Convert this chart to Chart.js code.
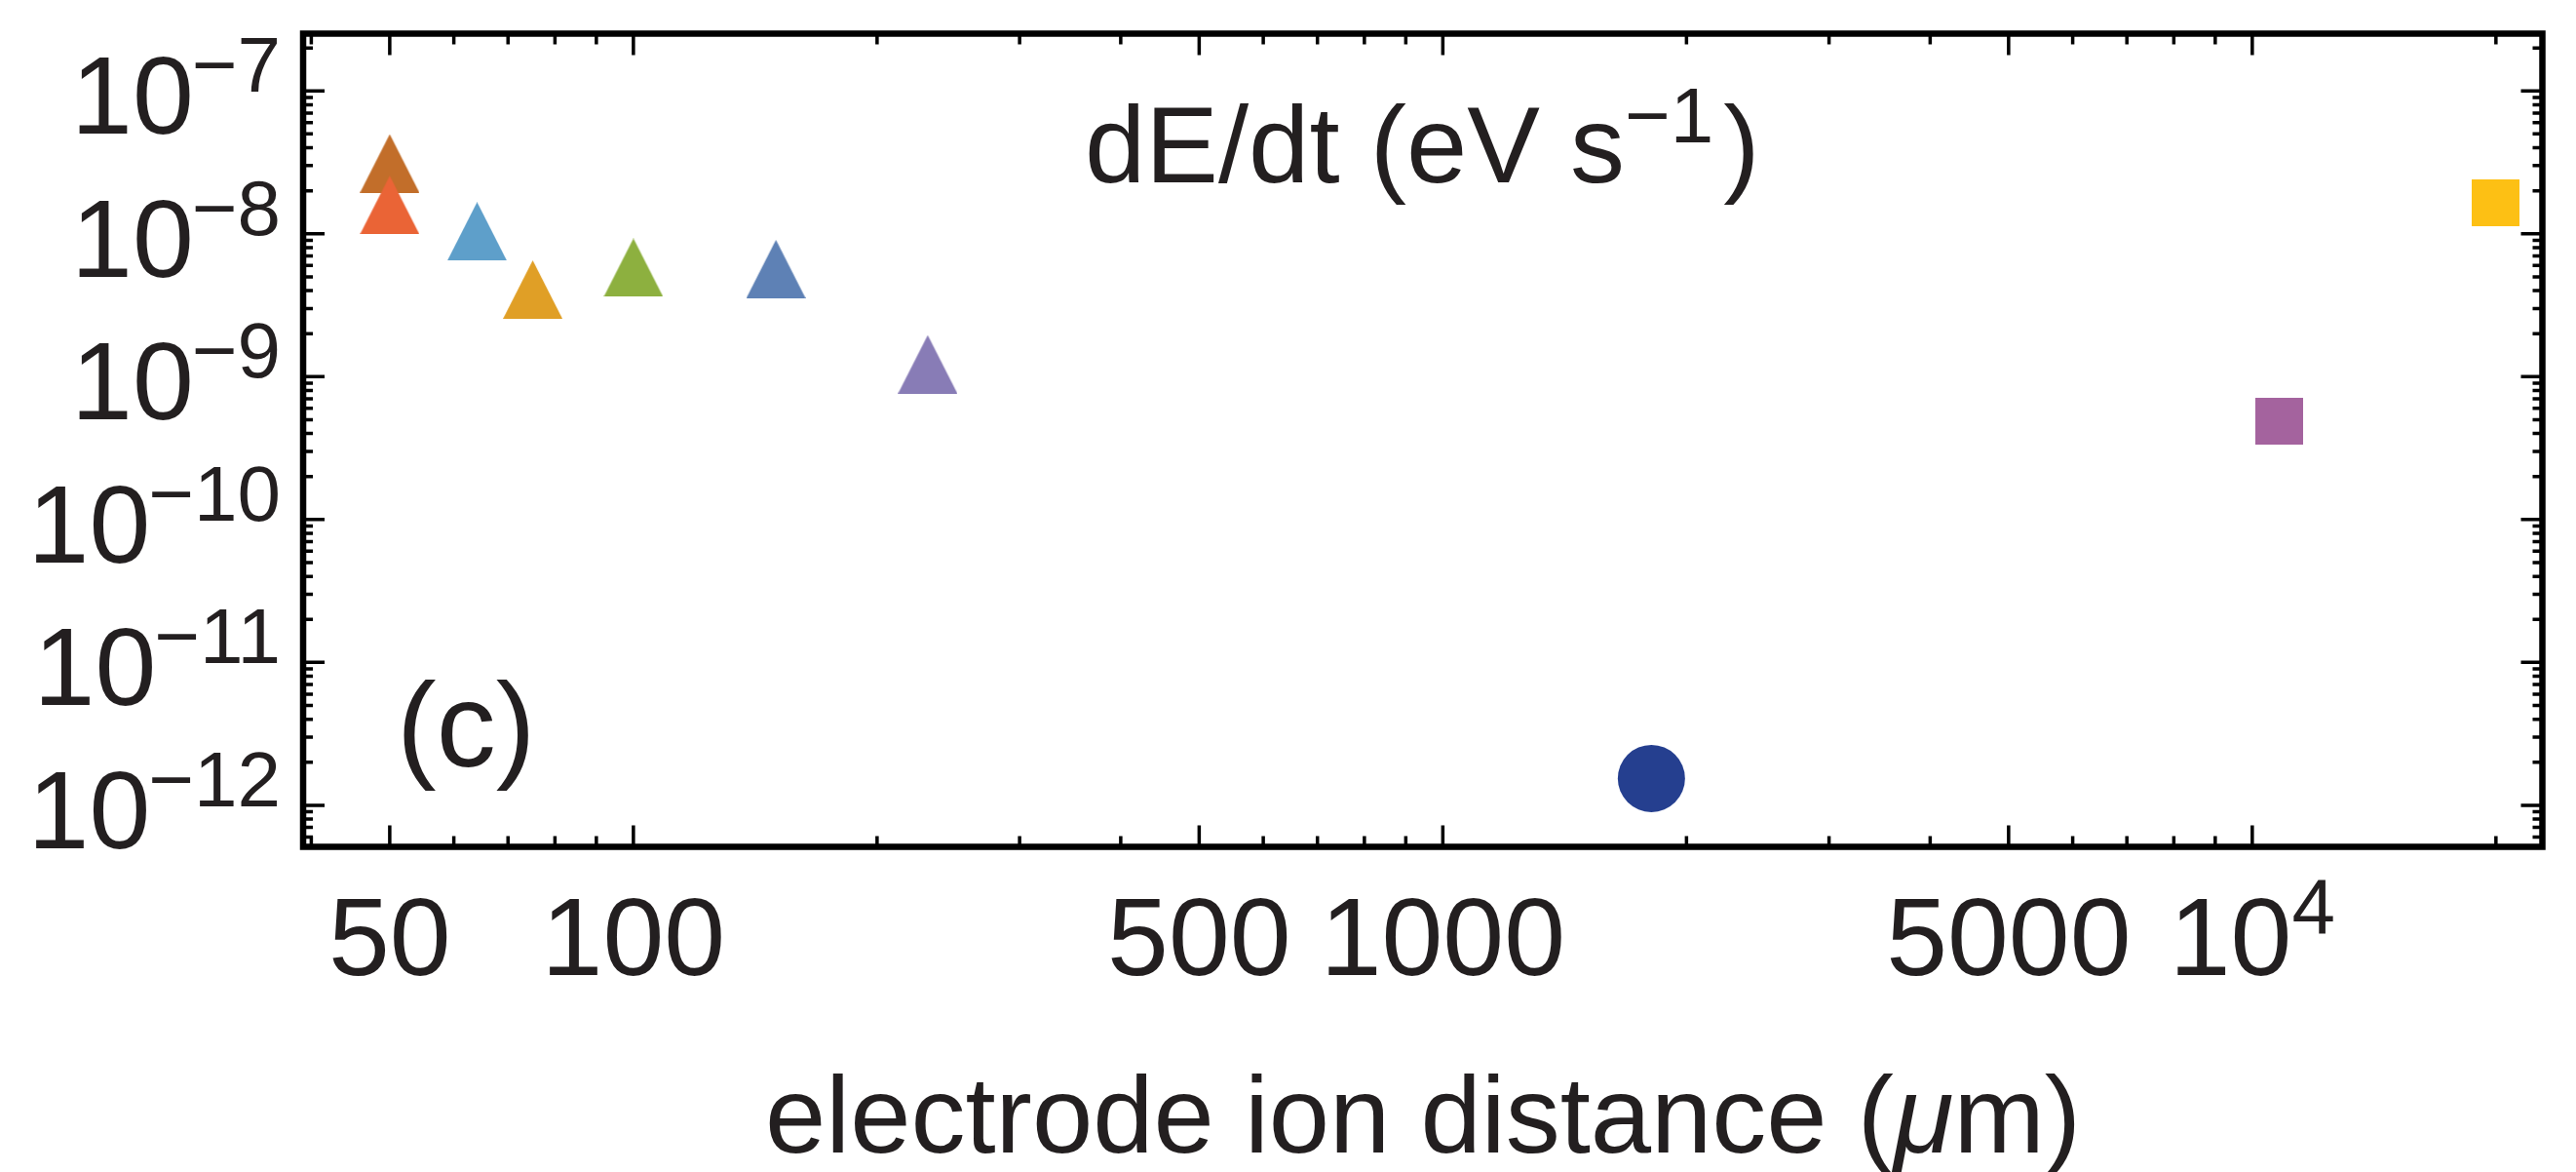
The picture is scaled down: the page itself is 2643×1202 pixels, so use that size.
<!DOCTYPE html>
<html>
<head>
<meta charset="utf-8">
<script src="https://cdn.jsdelivr.net/npm/chart.js@4/dist/chart.umd.min.js"></script>
<style>
  html, body { margin: 0; padding: 0; background: #ffffff; }
  #wrap { width: 2643px; height: 1202px; }
</style>
</head>
<body>
<div id="wrap"><canvas id="c" width="2643" height="1202"></canvas></div>
<script>
// ---------------- data ----------------
const seriesNames = ['S1', 'S2', 'S3', 'S4', 'S5', 'S6', 'S7', 'S8', 'S9', 'S10'];
const xValues = [50, 50, 64.1, 75.1, 100, 150, 231, 1810, 10800, 20000];          // electrode ion distance (um)
const yValues = [1.59e-8, 3.11e-8, 1.04e-8, 4.07e-9, 5.8e-9, 5.66e-9, 1.22e-9, 1.54e-12, 4.91e-10, 1.64e-8]; // dE/dt (eV/s)
const markerShapes = ['triangle', 'triangle', 'triangle', 'triangle', 'triangle', 'triangle', 'triangle', 'circle', 'square', 'square'];
const markerColors = ['#EA6436', '#C26E2A', '#5E9FCA', '#E09F26', '#8DB03F', '#5E81B5', '#887CB6', '#253F8F', '#A4639E', '#FDC014'];

// axis ticks and labels
const xMajorTicks = [50, 100, 500, 1000, 5000, 10000];
const xTickLabels = ['50', '100', '500', '1000', '5000', '10|4'];
const xMinorTicks = [40, 60, 70, 80, 90, 200, 300, 400, 600, 700, 800, 900, 2000, 3000, 4000, 6000, 7000, 8000, 9000, 20000];
const yMajorTicks = [1e-7, 1e-8, 1e-9, 1e-10, 1e-11, 1e-12];
const yTickExponents = ['\u22127', '\u22128', '\u22129', '\u221210', '\u221211', '\u221212'];
const yMinorTicks = [
  2e-7,
  9e-8, 8e-8, 7e-8, 6e-8, 5e-8, 4e-8, 3e-8, 2e-8,
  9e-9, 8e-9, 7e-9, 6e-9, 5e-9, 4e-9, 3e-9, 2e-9,
  9e-10, 8e-10, 7e-10, 6e-10, 5e-10, 4e-10, 3e-10, 2e-10,
  9e-11, 8e-11, 7e-11, 6e-11, 5e-11, 4e-11, 3e-11, 2e-11,
  9e-12, 8e-12, 7e-12, 6e-12, 5e-12, 4e-12, 3e-12, 2e-12,
  9e-13, 8e-13, 7e-13, 6e-13
];
const xRange = [39.08, 22825];
const yRange = [5.12e-13, 2.517e-7];

const xTitle = ['electrode ion distance (', '\u03BC', 'm)'];
const plotTitle = ['dE/dt (eV s', '\u22121', ')'];
const panelLabel = '(c)';

// ---------------- styles ----------------
const TEXT = '#231F20';
const FONT = '"Liberation Sans", Arial, Helvetica, sans-serif';

function makeMarker(shape, color) {
  if (shape === 'circle') return 'circle';
  const c = document.createElement('canvas');
  const ctx = c.getContext('2d');
  if (shape === 'triangle') {
    c.width = 61; c.height = 60;
    ctx.fillStyle = color;
    ctx.beginPath();
    ctx.moveTo(0, 60); ctx.lineTo(30.5, 0); ctx.lineTo(61, 60); ctx.closePath();
    ctx.fill();
  } else {
    c.width = 49; c.height = 48;
    ctx.fillStyle = color;
    ctx.fillRect(0, 0, 49, 48);
  }
  return c;
}

const datasets = seriesNames.map((name, i) => ({
  label: name,
  data: [{ x: xValues[i], y: yValues[i] }],
  pointStyle: makeMarker(markerShapes[i], markerColors[i]),
  pointRadius: markerShapes[i] === 'circle' ? 34.5 : 30,
  pointBackgroundColor: markerColors[i],
  pointBorderColor: markerColors[i],
  pointBorderWidth: 0,
  showLine: false
}));

const framePlugin = {
  id: 'framePlugin',
  afterDraw(chart) {
    const ctx = chart.ctx;
    const a = chart.chartArea;
    const xs = chart.scales.x, ys = chart.scales.y;
    ctx.save();
    // ticks
    ctx.strokeStyle = '#000';
    ctx.lineWidth = 3.5;
    ctx.lineCap = 'butt';
    const xt = (vals, len) => {
      vals.forEach(v => {
        const px = xs.getPixelForValue(v);
        ctx.beginPath();
        ctx.moveTo(px, a.bottom); ctx.lineTo(px, a.bottom - len);
        ctx.moveTo(px, a.top); ctx.lineTo(px, a.top + len);
        ctx.stroke();
      });
    };
    const yt = (vals, len) => {
      vals.forEach(v => {
        const py = ys.getPixelForValue(v);
        ctx.beginPath();
        ctx.moveTo(a.left, py); ctx.lineTo(a.left + len, py);
        ctx.moveTo(a.right, py); ctx.lineTo(a.right - len, py);
        ctx.stroke();
      });
    };
    xt(xMajorTicks, 22); xt(xMinorTicks, 11);
    yt(yMajorTicks, 22); yt(yMinorTicks, 10);
    // frame
    ctx.lineWidth = 6.5;
    ctx.strokeRect(a.left, a.top, a.right - a.left, a.bottom - a.top);

    ctx.fillStyle = TEXT;
    const big = '113px ' + FONT, sup = '80px ' + FONT;
    // y tick labels
    yMajorTicks.forEach((v, i) => {
      const py = ys.getPixelForValue(v);
      ctx.font = sup; ctx.textAlign = 'right'; ctx.textBaseline = 'alphabetic';
      const supW = ctx.measureText(yTickExponents[i]).width;
      ctx.fillText(yTickExponents[i], 288, py + 1);
      ctx.font = big;
      ctx.fillText('10', 288 - supW + 2, py + 44);
    });
    // x tick labels
    xMajorTicks.forEach((v, i) => {
      const px = xs.getPixelForValue(v);
      const lab = xTickLabels[i];
      ctx.textBaseline = 'alphabetic';
      if (lab.indexOf('|') >= 0) {
        const [b, e] = lab.split('|');
        ctx.font = big; const bw = ctx.measureText(b).width;
        ctx.font = sup; const ew = ctx.measureText(e).width;
        const start = px - (bw + ew) / 2;
        ctx.textAlign = 'left';
        ctx.font = big; ctx.fillText(b, start, 1000);
        ctx.font = sup; ctx.fillText(e, start + bw, 957);
      } else {
        ctx.font = big; ctx.textAlign = 'center';
        ctx.fillText(lab, px, 1000);
      }
    });
    // x axis title
    ctx.textAlign = 'left';
    ctx.font = '112px ' + FONT; const w1 = ctx.measureText(xTitle[0]).width;
    ctx.font = 'italic 112px ' + FONT; const w2 = ctx.measureText(xTitle[1]).width;
    ctx.font = '112px ' + FONT; const w3 = ctx.measureText(xTitle[2]).width;
    let sx = 1460 - (w1 + w2 + w3) / 2;
    ctx.font = '112px ' + FONT; ctx.fillText(xTitle[0], sx, 1182);
    ctx.font = 'italic 112px ' + FONT; ctx.fillText(xTitle[1], sx + w1, 1182);
    ctx.font = '112px ' + FONT; ctx.fillText(xTitle[2], sx + w1 + w2, 1182);
    // in-plot title
    let tx = 1113;
    ctx.font = '112px ' + FONT; ctx.fillText(plotTitle[0], tx, 187);
    tx += ctx.measureText(plotTitle[0]).width;
    ctx.font = sup; ctx.fillText(plotTitle[1], tx, 146);
    tx += ctx.measureText(plotTitle[1]).width + 10;
    ctx.font = '112px ' + FONT; ctx.fillText(plotTitle[2], tx, 187);
    // panel label
    ctx.font = '122px ' + FONT;
    ctx.fillText(panelLabel, 407, 786);
    ctx.restore();
  }
};

new Chart(document.getElementById('c'), {
  type: 'scatter',
  data: { datasets },
  options: {
    responsive: false,
    animation: false,
    devicePixelRatio: 1,
    layout: { padding: { left: 311, right: 32, top: 16.3, bottom: 333.5 } },
    plugins: { legend: { display: false }, tooltip: { enabled: false } },
    scales: {
      x: { type: 'logarithmic', display: false, bounds: 'data', min: xRange[0], max: xRange[1] },
      y: { type: 'logarithmic', display: false, bounds: 'data', min: yRange[0], max: yRange[1] }
    }
  },
  plugins: [framePlugin]
});
</script>
</body>
</html>
